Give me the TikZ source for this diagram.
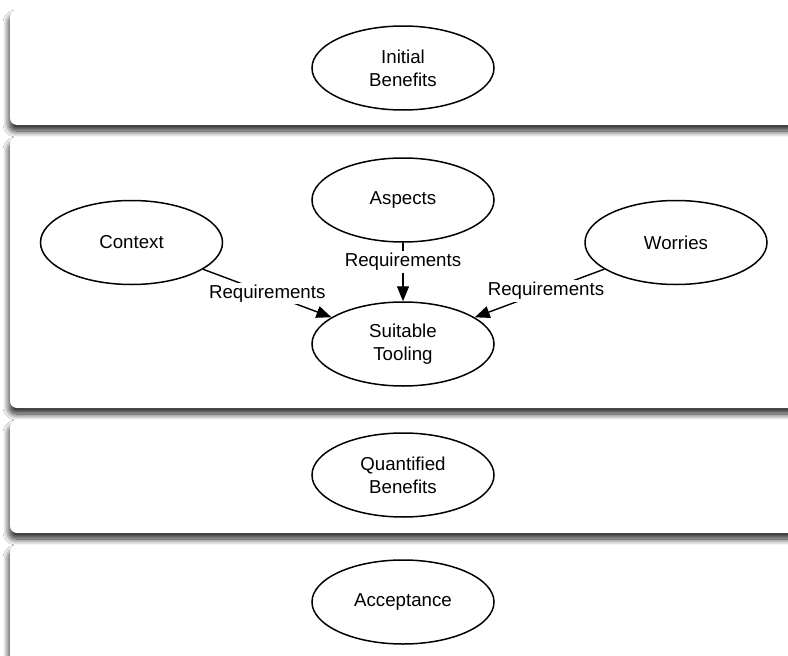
\documentclass[tikz,border=0pt]{standalone}
\usepackage{fontspec}
\setmainfont{Liberation Sans}
\usetikzlibrary{shapes.geometric,arrows.meta,shadows.blur}
\begin{document}
\begin{tikzpicture}[x=1pt,y=-1pt,
  panel/.style={fill=white, rounded corners=7pt,
    blur shadow={shadow xshift=-1pt, shadow yshift=-6pt,
                 shadow blur radius=6pt, shadow blur steps=12,
                 shadow opacity=85}},
  bubble/.style={ellipse, draw, line width=1.5pt, fill=white,
    minimum width=182pt, minimum height=84pt, inner sep=0pt,
    align=center, font=\fontsize{18.7}{23}\selectfont},
  link/.style={line width=1.4pt, draw=black,
    -{Triangle[length=15pt,width=12pt,fill=black]}},
  tag/.style={fill=white, inner sep=2pt, font=\fontsize{18.7}{23}\selectfont}]
\useasboundingbox (0,0) rectangle (788,656);
\clip (0,0) rectangle (788,656);
\fill[white] (0,0) rectangle (788,656);

% horizontal bands
\path[panel] (10,10)  rectangle (800,125);
\path[panel] (10,137) rectangle (800,408);
\path[panel] (10,420) rectangle (800,533);
\path[panel] (10,545) rectangle (800,668);

% concepts
\node[bubble] (init)  at (403,68)      {Initial\\Benefits};
\node[bubble] (asp)   at (403,200)     {Aspects};
\node[bubble] (ctx)   at (131.5,242.5) {Context};
\node[bubble] (wor)   at (676,242.5)   {Worries};
\node[bubble] (suit)  at (403,344)     {Suitable\\Tooling};
\node[bubble] (quant) at (403,475)     {Quantified\\Benefits};
\node[bubble] (acc)   at (403,602)     {Acceptance};

% requirement links
\draw[link] (ctx) -- node[tag] {Requirements} (suit);
\draw[link] (asp) -- node[tag, pos=0.33] {Requirements} (suit);
\draw[link] (wor) -- node[tag, pos=0.45] {Requirements} (suit);
\end{tikzpicture}
\end{document}
